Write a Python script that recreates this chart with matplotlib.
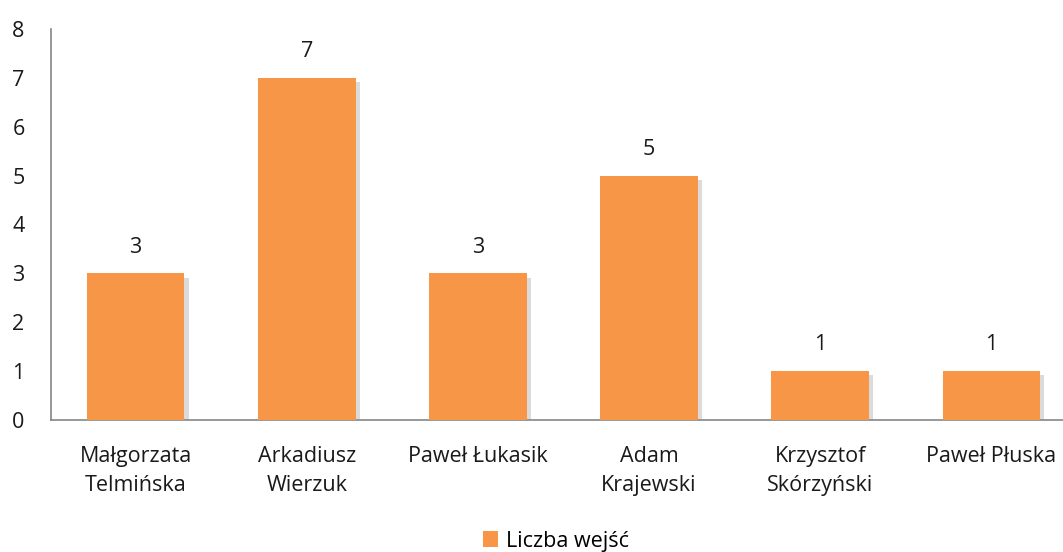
import matplotlib
matplotlib.use("Agg")
import matplotlib.pyplot as plt
import matplotlib.patheffects as pe
from matplotlib.patches import Patch

categories = ["Małgorzata\nTelmińska", "Arkadiusz\nWierzuk", "Paweł Łukasik",
              "Adam\nKrajewski", "Krzysztof\nSkórzyński", "Paweł Płuska"]
values = [3, 7, 3, 5, 1, 1]
series_name = "Liczba wejść"
yticks = [0, 1, 2, 3, 4, 5, 6, 7, 8]

plt.rcParams['font.family'] = ['Open Sans', 'DejaVu Sans']
W, H = 1063, 552
fig = plt.figure(figsize=(W/100, H/100), dpi=100)
left, bottom, top = 51, 420, 29
ax = fig.add_axes([left/W, (H-bottom)/H, (W-left)/W, (bottom-top)/H])

color = "#F79646"
txt = '#1a1a1a'
fs = 15.5
x = list(range(len(categories)))
bars = ax.bar(x, values, width=0.57, color=color, zorder=3)
for b in bars:
    b.set_path_effects([pe.SimplePatchShadow(offset=(3, -3), shadow_rgbFace="#8a8a8a", alpha=0.3),
                        pe.Normal()])

for xi, v in zip(x, values):
    ax.text(xi, v + 0.32, str(v), ha='center', va='bottom', fontsize=fs, color=txt)

ax.set_xlim(-0.494, 5.418)
ax.set_ylim(0, 8)
ax.set_yticks(yticks)
ax.set_xticks(x)
ax.set_xticklabels(categories, fontsize=fs, color=txt, linespacing=1.5)
ax.tick_params(axis='y', length=0, pad=19, labelsize=fs, labelcolor=txt)
ax.tick_params(axis='x', length=0, pad=19)

for s in ['top', 'right']:
    ax.spines[s].set_visible(False)
for s in ['left', 'bottom']:
    ax.spines[s].set_color('#868686')
    ax.spines[s].set_linewidth(1.2)

handle = Patch(facecolor=color, edgecolor='none')
fig.legend([handle], [series_name], loc='center', bbox_to_anchor=(556/W, 1-541/H),
           frameon=False, fontsize=fs, handlelength=0.7, handleheight=0.7, handletextpad=0.35,
           borderpad=0)

fig.savefig("out.png", dpi=100)
